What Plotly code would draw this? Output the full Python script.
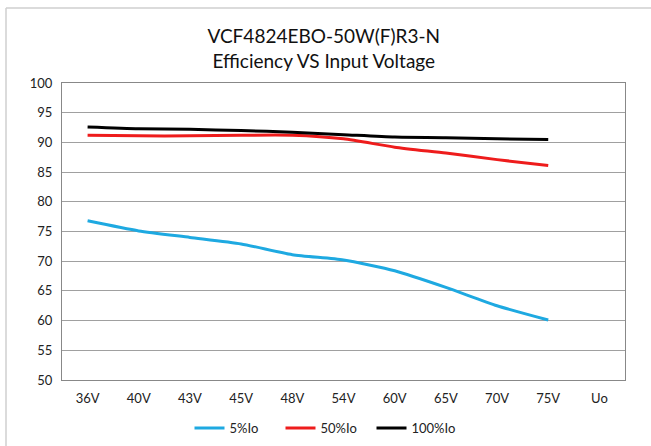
import plotly.graph_objects as go

categories = ["36V", "40V", "43V", "45V", "48V", "54V", "60V", "65V", "70V", "75V", "Uo"]
eff_5 = [76.8, 75.1, 74.0, 72.9, 71.1, 70.2, 68.4, 65.6, 62.5, 60.1]
eff_50 = [91.2, 91.1, 91.1, 91.2, 91.2, 90.6, 89.2, 88.2, 87.1, 86.1]
eff_100 = [92.6, 92.3, 92.2, 92.0, 91.7, 91.3, 90.9, 90.8, 90.6, 90.5]

FONT = "Lato, 'Noto Sans', sans-serif"
W, H = 651, 446
L, R, T, B = 62, 625, 83, 380

fig = go.Figure()
for name, vals, color in [("5%Io", eff_5, "#1ea9e1"), ("50%Io", eff_50, "#ee1c1c"), ("100%Io", eff_100, "#000000")]:
    fig.add_trace(go.Scatter(
        x=categories[:len(vals)], y=vals, name=name, mode="lines",
        line=dict(color=color, width=3, shape="spline", smoothing=0.6),
    ))

def px_x(x):
    return (x - L) / (R - L)

def px_y(y):
    return (B - y) / (B - T)

fig.update_layout(
    width=W, height=H,
    margin=dict(l=L, r=W - R, t=T, b=H - B, autoexpand=False),
    paper_bgcolor="white", plot_bgcolor="white",
    font=dict(family=FONT, size=13, color="#222"),
    title=dict(text="VCF4824EBO-50W(F)R3-N<br>Efficiency VS Input Voltage",
               x=px_x(342), xanchor="center", yref="container", y=1 - 43 / H, yanchor="middle",
               font=dict(family=FONT, size=19, color="#111")),
    showlegend=True,
    legend=dict(orientation="h", x=px_x(326), xanchor="center", yref="container", y=1 - 428 / H,
                yanchor="middle", font=dict(family=FONT, size=13), itemwidth=30,
                entrywidth=46, tracegroupgap=0),
    xaxis=dict(type="category", categoryorder="array", categoryarray=categories,
               range=[-0.5, 10.5], showgrid=False, showline=True, linecolor="#888",
               linewidth=1, mirror=True, ticks="", tickfont=dict(size=13), ticklabelstandoff=6),
    yaxis=dict(range=[50, 100], dtick=5, showgrid=True, gridcolor="#a0a0a0", gridwidth=1,
               showline=True, linecolor="#888", linewidth=1, mirror=True, ticks="",
               tickfont=dict(size=13), zeroline=False, ticklabelstandoff=6),
    shapes=[
        dict(type="line", xref="paper", yref="paper", x0=px_x(6), x1=px_x(W), y0=px_y(8), y1=px_y(8),
             line=dict(color="#cfcfcf", width=1.5)),
        dict(type="line", xref="paper", yref="paper", x0=px_x(6), x1=px_x(6), y0=px_y(8), y1=px_y(H),
             line=dict(color="#cfcfcf", width=1.5)),
    ],
)

fig.write_html("out.html", config={"displayModeBar": False},
               post_script="document.body.style.margin='0';")
